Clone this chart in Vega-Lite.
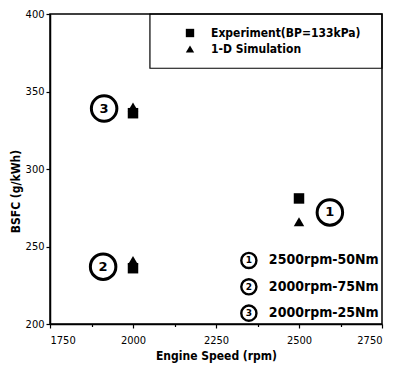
{
  "$schema": "https://vega.github.io/schema/vega-lite/v6.json",
  "width": 332,
  "height": 310,
  "autosize": {"type": "none"},
  "padding": {"left": 50, "top": 14, "right": 13, "bottom": 52},
  "background": "white",
  "config": {
    "view": {"stroke": "#000", "strokeWidth": 1.5},
    "font": "DejaVu Sans Condensed",
    "axis": {
      "domainColor": "#000", "domainWidth": 1.5, "tickColor": "#000", "tickWidth": 1.2,
      "labelFont": "DejaVu Sans Condensed", "labelFontSize": 11, "labelColor": "#000",
      "titleFont": "DejaVu Sans Condensed", "titleFontSize": 12, "titleFontWeight": "bold", "titleColor": "#000",
      "grid": false
    }
  },
  "datasets": {
    "points": [
      {"speed": 2000, "bsfc": 336, "series": "Experiment(BP=133kPa)"},
      {"speed": 2000, "bsfc": 236, "series": "Experiment(BP=133kPa)"},
      {"speed": 2500, "bsfc": 281, "series": "Experiment(BP=133kPa)"},
      {"speed": 2000, "bsfc": 340, "series": "1-D Simulation"},
      {"speed": 2000, "bsfc": 241, "series": "1-D Simulation"},
      {"speed": 2500, "bsfc": 266, "series": "1-D Simulation"}
    ],
    "callouts": [
      {"speed": 2593, "bsfc": 272, "num": "1"},
      {"speed": 1910, "bsfc": 237, "num": "2"},
      {"speed": 1913, "bsfc": 339, "num": "3"}
    ],
    "key": [
      {"speed": 2349, "bsfc": 241, "num": "1", "text": "2500rpm-50Nm"},
      {"speed": 2349, "bsfc": 224, "num": "2", "text": "2000rpm-75Nm"},
      {"speed": 2349, "bsfc": 207, "num": "3", "text": "2000rpm-25Nm"}
    ]
  },
  "layer": [
    {
      "data": {"name": "points"},
      "mark": {"type": "point", "filled": true, "opacity": 1, "color": "#000", "size": 110},
      "encoding": {
        "x": {"field": "speed", "type": "quantitative", "scale": {"domain": [1750, 2750], "nice": false, "zero": false},
          "axis": {"values": [1750, 1875, 2000, 2125, 2250, 2375, 2500, 2625, 2750],
            "labelExpr": "datum.value % 250 == 0 ? format(datum.value, 'd') : ''",
            "tickSize": {"condition": {"test": "datum.value % 250 != 0", "value": 2.5}, "value": 4},
            "title": "Engine Speed (rpm)", "titlePadding": 5, "labelPadding": 6}},
        "y": {"field": "bsfc", "type": "quantitative", "scale": {"domain": [200, 400], "nice": false, "zero": false},
          "axis": {"values": [200, 225, 250, 275, 300, 325, 350, 375, 400],
            "labelExpr": "datum.value % 50 == 0 ? format(datum.value, 'd') : ''",
            "tickSize": {"condition": {"test": "datum.value % 50 != 0", "value": 2.5}, "value": 4},
            "title": "BSFC (g/kWh)", "titleX": -35, "titleY": 177, "titleBaseline": "middle", "titleAngle": -90, "titleAlign": "center", "labelPadding": 2}},
        "shape": {
          "field": "series", "type": "nominal",
          "scale": {"domain": ["Experiment(BP=133kPa)", "1-D Simulation"], "range": ["square", "triangle-up"]},
          "legend": {
            "title": null, "orient": "none", "legendX": 134, "legendY": 13,
            "symbolFillColor": "#000", "symbolStrokeColor": "#000", "symbolSize": 70, "symbolStrokeWidth": 0,
            "labelFont": "DejaVu Sans Condensed", "labelFontSize": 12, "labelFontWeight": "bold", "labelColor": "#000",
            "labelOffset": 15, "rowPadding": 4, "padding": 0,
            "encode": {"labels": {"update": {"fontStyle": {"signal": "datum.label == '1-D Simulation' ? 'italic' : 'normal'"}}}}
          }
        }
      }
    },
    {
      "data": {"values": [{}]},
      "mark": {"type": "rect", "fill": null, "stroke": "#000", "strokeWidth": 1.2},
      "encoding": {
        "x": {"datum": 2051, "type": "quantitative"},
        "x2": {"datum": 2750},
        "y": {"datum": 365, "type": "quantitative"},
        "y2": {"datum": 400}
      }
    },
    {
      "data": {"name": "callouts"},
      "mark": {"type": "point", "shape": "circle", "filled": false, "stroke": "#000", "strokeWidth": 3, "size": 650, "opacity": 1},
      "encoding": {"x": {"field": "speed", "type": "quantitative"}, "y": {"field": "bsfc", "type": "quantitative"}}
    },
    {
      "data": {"name": "callouts"},
      "mark": {"type": "text", "font": "DejaVu Sans", "fontWeight": "bold", "fontSize": 13, "color": "#000", "baseline": "middle", "align": "center"},
      "encoding": {"x": {"field": "speed", "type": "quantitative"}, "y": {"field": "bsfc", "type": "quantitative"}, "text": {"field": "num"}}
    },
    {
      "data": {"name": "key"},
      "mark": {"type": "point", "shape": "circle", "filled": false, "stroke": "#000", "strokeWidth": 2.4, "size": 230, "opacity": 1},
      "encoding": {"x": {"field": "speed", "type": "quantitative"}, "y": {"field": "bsfc", "type": "quantitative"}}
    },
    {
      "data": {"name": "key"},
      "mark": {"type": "text", "font": "DejaVu Sans", "fontWeight": "bold", "fontSize": 9, "color": "#000", "baseline": "middle", "align": "center"},
      "encoding": {"x": {"field": "speed", "type": "quantitative"}, "y": {"field": "bsfc", "type": "quantitative"}, "text": {"field": "num"}}
    },
    {
      "data": {"name": "key"},
      "mark": {"type": "text", "font": "DejaVu Sans Condensed", "fontWeight": "bold", "fontSize": 14, "color": "#000", "baseline": "middle", "align": "left", "dx": 20},
      "encoding": {"x": {"field": "speed", "type": "quantitative"}, "y": {"field": "bsfc", "type": "quantitative"}, "text": {"field": "text"}}
    }
  ]
}
